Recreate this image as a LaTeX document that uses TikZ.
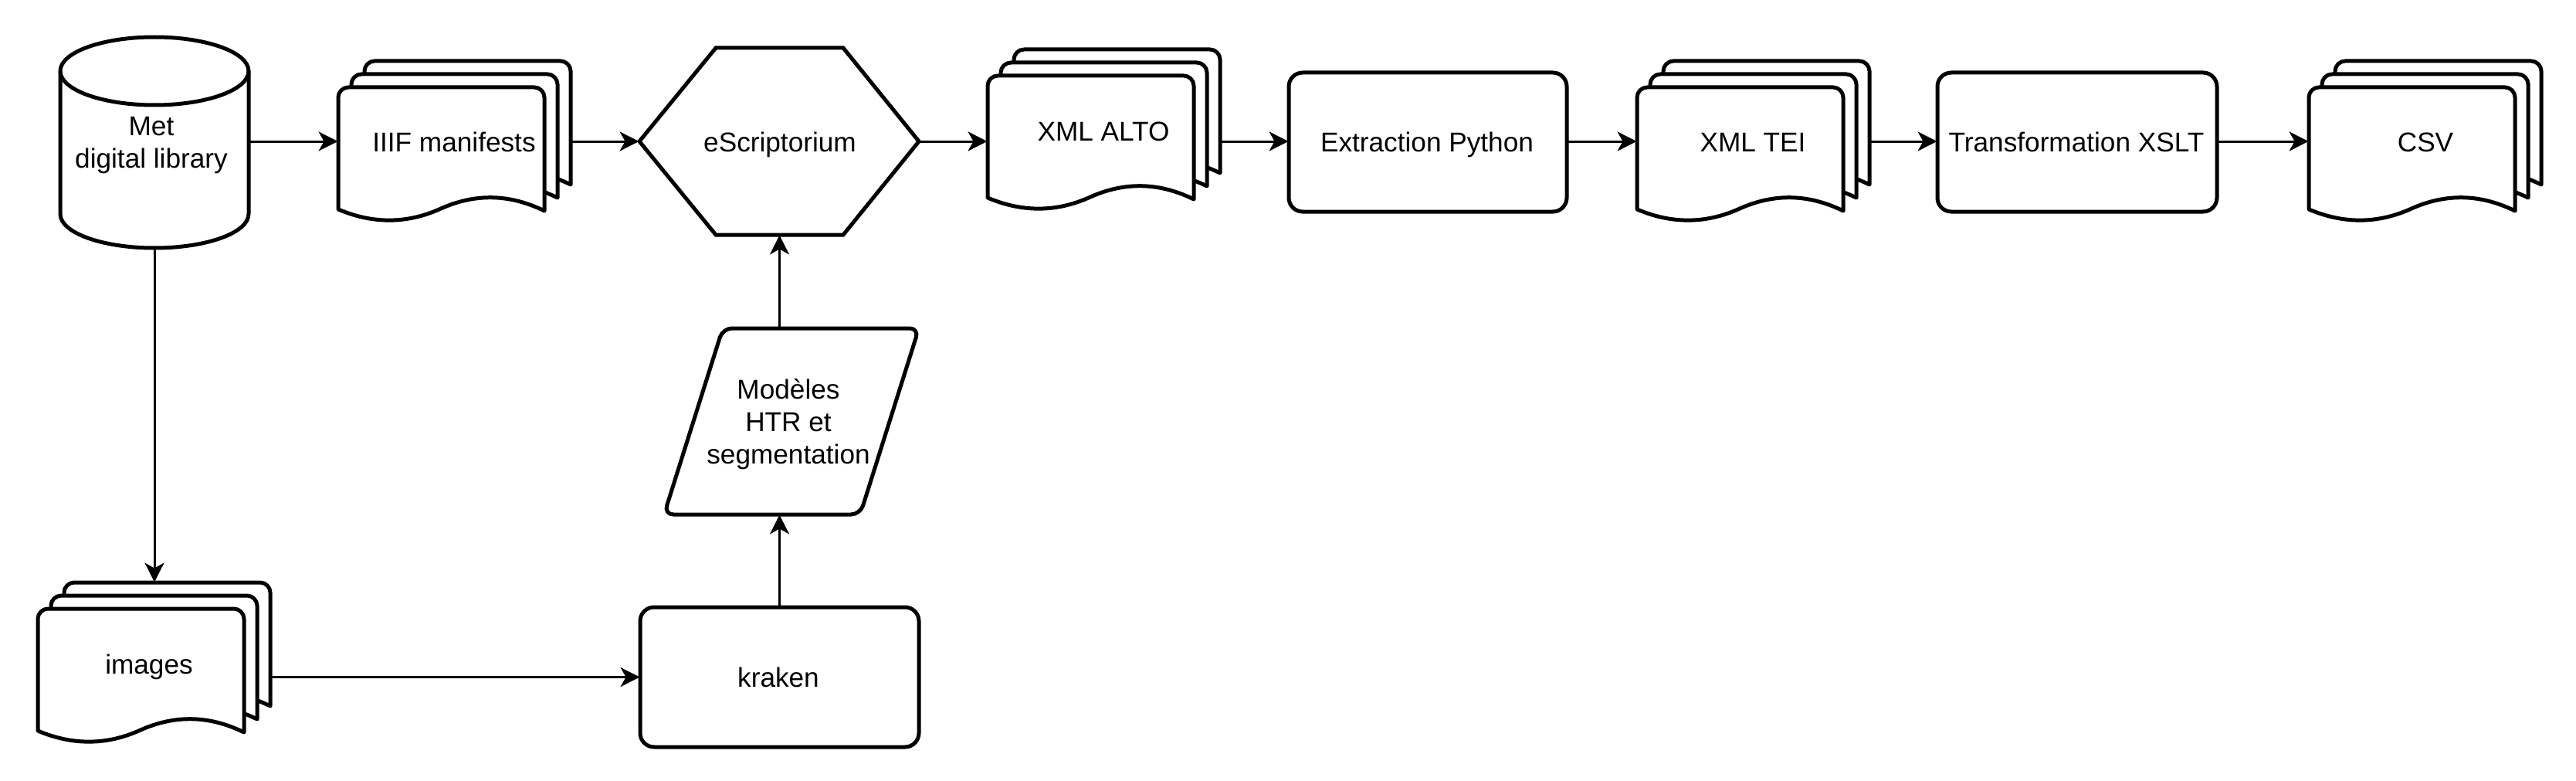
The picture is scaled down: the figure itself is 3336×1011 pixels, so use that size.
\documentclass[tikz,border=0pt]{standalone}
\usepackage{fontspec}
\setmainfont{Liberation Sans}
\usetikzlibrary{arrows.meta,fit}
\tikzset{
  shp/.style={draw=black, line width=2.5pt, fill=white, line join=round},
  conn/.style={draw=black, line width=1.5pt, -{Stealth[length=12.5pt,width=12.5pt,inset=3.5pt]}},
  lbl/.style={font=\fontsize{17.6}{21.1}\selectfont, inner sep=0pt, anchor=base},
  mlbl/.style={font=\fontsize{17.6}{21.1}\selectfont, inner sep=0pt, align=center},
  bb/.style={inner sep=0pt, draw=none},
}
\newcommand\mydoc[2]{%
  \filldraw[shp] (#1+267,#2+160) .. controls (#1+222,#2+138) and (#1+178,#2+137) .. (#1+133,#2+157)
    .. controls (#1+89,#2+177) and (#1+45,#2+177) .. (#1,#2+158) -- (#1,#2+13)
    .. controls (#1,#2+6) and (#1+6,#2) .. (#1+13,#2) -- (#1+254,#2)
    .. controls (#1+261,#2) and (#1+267,#2+6) .. (#1+267,#2+13) -- cycle;}
\newcommand\mystack[2]{\mydoc{#1+34}{#2}\mydoc{#1+17}{#2+17}\mydoc{#1}{#2+34}}
\begin{document}
\begin{tikzpicture}[x=0.5pt,y=-0.5pt]
\useasboundingbox (0,0) rectangle (3336,1011);
\fill[white] (0,0) rectangle (3336,1011);

% cylinder
\filldraw[shp] (78,92) -- (78,277) .. controls (78,301.3) and (132.6,321) .. (200,321)
  .. controls (267.4,321) and (322,301.3) .. (322,277) -- (322,92)
  .. controls (322,67.7) and (267.4,48) .. (200,48) .. controls (132.6,48) and (78,67.7) .. (78,92) -- cycle;
\draw[shp, fill=none] (78,92) .. controls (78,116.3) and (132.6,136) .. (200,136)
  .. controls (267.4,136) and (322,116.3) .. (322,92);

% document stacks
\mystack{438}{79}
\mystack{1279}{64}
\mystack{2120}{79}
\mystack{2990}{79}
\mystack{49}{754}

% hexagon
\filldraw[shp, line join=miter] (828,183) -- (927,62) -- (1092,62) -- (1190,183) -- (1092,304) -- (927,304) -- cycle;

% parallelogram
\filldraw[shp, rounded corners=6pt] (1063,425) -- (1190,425) -- (1114,666) -- (860,666) -- (936,425) -- cycle;

% process boxes
\filldraw[shp, rounded corners=9pt] (1669,94) rectangle (2029,274);
\filldraw[shp, rounded corners=9pt] (2509,94) rectangle (2871,274);
\filldraw[shp, rounded corners=9pt] (829,786) rectangle (1190,967);

% named boxes
\node[bb, fit={(78,48)(322,321)}] (met) {};
\node[bb, fit={(438,79)(739,285)}] (iiif) {};
\node[bb, fit={(828,62)(1190,304)}] (esc) {};
\node[bb, fit={(1279,64)(1580,270)}] (alto) {};
\node[bb, fit={(1669,94)(2029,274)}] (extr) {};
\node[bb, fit={(2120,79)(2421,285)}] (tei) {};
\node[bb, fit={(2509,94)(2871,274)}] (xslt) {};
\node[bb, fit={(2990,79)(3291,285)}] (csv) {};
\node[bb, fit={(49,754)(350,960)}] (img) {};
\node[bb, fit={(829,786)(1190,967)}] (krk) {};
\node[bb, fit={(860,425)(1190,666)}] (mod) {};
\coordinate (row) at (0,183);

% labels
\node[mlbl] (tmet) at (196,188) {Met\\digital library};
\node[lbl] (tiiif) at (588,197) {IIIF manifests};
\node[lbl] (tesc) at (1010,197) {eScriptorium};
\node[lbl] (talto) at (1429,183) {XML ALTO};
\node[lbl] (textr) at (1848,197) {Extraction Python};
\node[lbl] (ttei) at (2270,197) {XML TEI};
\node[lbl] (txslt) at (2689,197) {Transformation XSLT};
\node[lbl] (tcsv) at (3141,197) {CSV};
\node[lbl] (timg) at (193,872) {images};
\node[lbl] (tkrk) at (1008,889) {kraken};
\node[mlbl] (tmod) at (1021,549) {Modèles\\HTR et\\segmentation};

% connectors
\draw[conn] (met.east |- row) -- (iiif.west |- row);
\draw[conn] (iiif.east |- row) -- (esc.west |- row);
\draw[conn] (esc.east |- row) -- (alto.west |- row);
\draw[conn] (alto.east |- row) -- (extr.west |- row);
\draw[conn] (extr.east |- row) -- (tei.west |- row);
\draw[conn] (tei.east |- row) -- (xslt.west |- row);
\draw[conn] (xslt.east |- row) -- (csv.west |- row);
\draw[conn] (met.south) -- (met.south |- img.north);
\draw[conn] (krk.west -| img.east) -- (krk.west);
\draw[conn] (krk.north) -- (krk.north |- mod.south);
\draw[conn] (krk.north |- mod.north) -- (krk.north |- esc.south);
\end{tikzpicture}
\end{document}
